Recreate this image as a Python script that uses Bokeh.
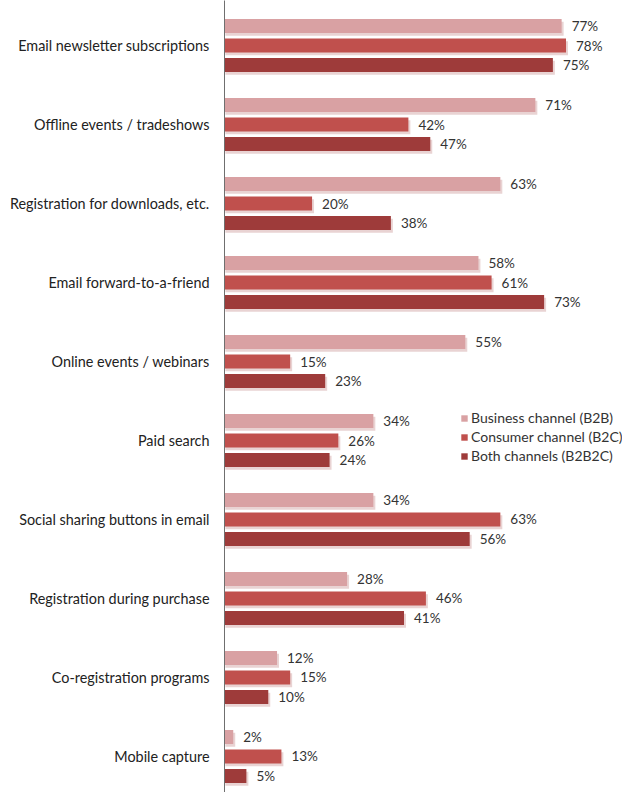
from bokeh.plotting import figure
from bokeh.models import Range1d, FixedTicker, ColumnDataSource, Legend, LegendItem
from bokeh.core.properties import value
from bokeh.embed import file_html
from bokeh.resources import INLINE

categories = [
    "Email newsletter subscriptions",
    "Offline events / tradeshows",
    "Registration for downloads, etc.",
    "Email forward-to-a-friend",
    "Online events / webinars",
    "Paid search",
    "Social sharing buttons in email",
    "Registration during purchase",
    "Co-registration programs",
    "Mobile capture",
]
series_names = ["Business channel (B2B)", "Consumer channel (B2C)", "Both channels (B2B2C)"]
b2b = [77, 71, 63, 58, 55, 34, 34, 28, 12, 2]
b2c = [78, 42, 20, 61, 15, 26, 63, 46, 15, 13]
b2b2c = [75, 47, 38, 73, 23, 24, 56, 41, 10, 5]

colors = ["#D9A1A3", "#C0504D", "#9E3B3A"]
offsets = [-0.247, 0.0, 0.247]
bar_h = 0.178

FONT = "Lato"

p = figure(width=622, height=792, output_backend="svg", toolbar_location=None,
           x_range=Range1d(0, 90.9), y_range=Range1d(9.456, -0.570),
           x_axis_location=None, min_border_left=224, min_border_right=0,
           min_border_top=0, min_border_bottom=0)
p.outline_line_color = None
p.xgrid.visible = False
p.ygrid.visible = False
p.background_fill_color = "white"

items = []
for vals, col, off, name in zip([b2b, b2c, b2b2c], colors, offsets, series_names):
    ys = [i + off for i in range(len(vals))]
    src = ColumnDataSource(dict(y=ys, right=vals,
                                ys=[y + 0.035 for y in ys],
                                rs=[v + 0.45 for v in vals],
                                lab=[f"{v}%" for v in vals]))
    p.hbar(y="ys", left=0.2, right="rs", height=bar_h, source=src,
           fill_color="#E9D3D3", line_color=None)
    r = p.hbar(y="y", left=0, right="right", height=bar_h, source=src,
               fill_color=col, line_color=None)
    p.text(x="right", y="y", text="lab", source=src, x_offset=10,
           text_font=value(FONT), text_font_size="13.5px", text_color="#333333",
           text_baseline="middle", text_align="left")
    items.append(LegendItem(label=name, renderers=[r]))

legend = Legend(items=items, location=(236, 328), padding=0, margin=0,
                spacing=2, glyph_width=8, glyph_height=8, label_height=15,
                label_standoff=3, label_text_font=FONT, label_text_font_size="14px",
                label_text_color="#333333", border_line_color=None,
                background_fill_alpha=0)
p.add_layout(legend)

ax = p.yaxis[0]
ax.ticker = FixedTicker(ticks=list(range(len(categories))))
ax.major_label_overrides = {i: c for i, c in enumerate(categories)}
ax.major_tick_line_color = None
ax.minor_tick_line_color = None
ax.major_tick_out = 0
ax.major_tick_in = 0
ax.major_label_standoff = 15
ax.axis_line_color = "#6F6F6F"
ax.axis_line_width = 1
ax.major_label_text_font = FONT
ax.major_label_text_font_size = "14.4px"
ax.major_label_text_color = "#222222"

open("out.html", "w").write(file_html(p, INLINE))
